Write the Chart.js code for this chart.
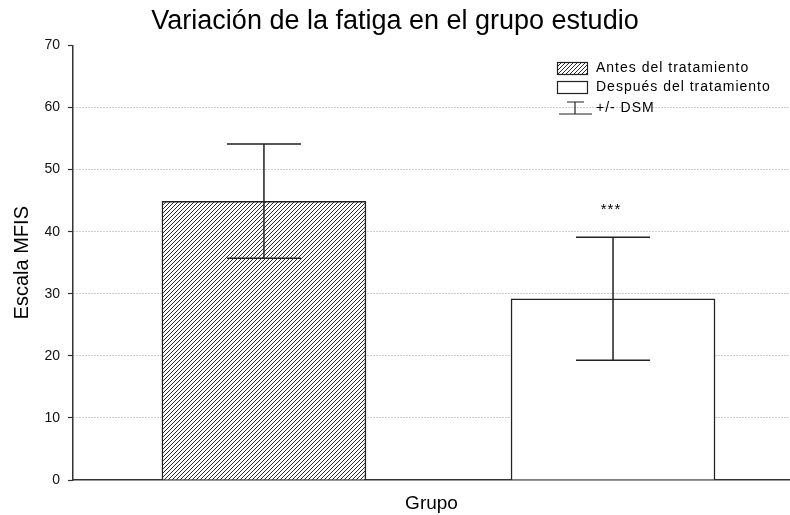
<!DOCTYPE html>
<html>
<head>
<meta charset="utf-8">
<script src="https://cdn.jsdelivr.net/npm/chart.js@4"></script>
<style>
  html, body { margin: 0; padding: 0; background: #fff; overflow: hidden; }
  #wrap { width: 790px; height: 515px; position: relative; }
</style>
</head>
<body>
<div id="wrap"><canvas id="c" width="790" height="515"></canvas></div>
<script>
// ---- Data ----
const chartTitle = 'Variación de la fatiga en el grupo estudio';
const categories = ['Antes del tratamiento', 'Después del tratamiento'];
const groupPositions = [1, 2];
const means = [44.9, 29.2];
const dsm = [9.2, 9.9];
const significance = ['', '***'];
const errorLabel = '+/- DSM';
const yTitle = 'Escala MFIS';
const xTitle = 'Grupo';
const yMin = 0, yMax = 70, yStep = 10;
const xMin = 0.453, xMax = 2.507;

// ---- Hatch pattern ----
function makeHatch() {
  const s = 4;
  const pc = document.createElement('canvas');
  pc.width = s; pc.height = s;
  const p = pc.getContext('2d');
  p.fillStyle = '#ffffff';
  p.fillRect(0, 0, s, s);
  p.strokeStyle = '#2a2a2a';
  p.lineWidth = 1;
  p.beginPath();
  p.moveTo(-1, s + 1); p.lineTo(s + 1, -1);
  p.moveTo(-1, 1); p.lineTo(1, -1);
  p.moveTo(s - 1, s + 1); p.lineTo(s + 1, s - 1);
  p.stroke();
  return document.getElementById('c').getContext('2d').createPattern(pc, 'repeat');
}
const hatch = makeHatch();
const fills = [hatch, '#ffffff'];

const FONT = "'Liberation Sans', Arial, sans-serif";

// ---- Error bars + significance plugin ----
const errorBars = {
  id: 'errorBars',
  afterDatasetsDraw(chart) {
    const ctx = chart.ctx;
    const xs = chart.scales.x, ys = chart.scales.y;
    ctx.save();
    ctx.setLineDash([]);
    ctx.strokeStyle = '#222';
    ctx.lineWidth = 1.5;
    groupPositions.forEach((g, i) => {
      const x = xs.getPixelForValue(g);
      const yT = ys.getPixelForValue(means[i] + dsm[i]);
      const yB = ys.getPixelForValue(means[i] - dsm[i]);
      const half = 37;
      ctx.beginPath();
      ctx.moveTo(x, yT); ctx.lineTo(x, yB);
      ctx.moveTo(x - half, yT); ctx.lineTo(x + half, yT);
      ctx.moveTo(x - half, yB); ctx.lineTo(x + half, yB);
      ctx.stroke();
      if (significance[i]) {
        ctx.fillStyle = '#000';
        ctx.font = '15px ' + FONT;
        ctx.letterSpacing = '1px';
        ctx.textAlign = 'center';
        ctx.textBaseline = 'middle';
        ctx.fillText(significance[i], x - 2, yT - 27);
      }
    });
    ctx.restore();
  }
};

// ---- Custom in-plot legend ----
const innerLegend = {
  id: 'innerLegend',
  afterDraw(chart) {
    const ctx = chart.ctx;
    ctx.save();
    ctx.setLineDash([]);
    const bx = 557, bw = 30, bh = 12;
    const rows = [62, 81];
    ctx.lineWidth = 1.2;
    ctx.strokeStyle = '#222';
    ctx.font = '14px ' + FONT;
    ctx.letterSpacing = '1px';
    ctx.fillStyle = '#000';
    ctx.textBaseline = 'middle';
    ctx.textAlign = 'left';
    categories.forEach((lab, i) => {
      ctx.fillStyle = fills[i];
      ctx.fillRect(bx, rows[i], bw, bh);
      ctx.strokeRect(bx + 0.5, rows[i] + 0.5, bw, bh);
      ctx.fillStyle = '#000';
      ctx.fillText(lab, 596, rows[i] + bh / 2 + 0.5);
    });
    // error symbol
    ctx.beginPath();
    ctx.moveTo(575, 102); ctx.lineTo(575, 114);
    ctx.moveTo(567, 102); ctx.lineTo(584, 102);
    ctx.moveTo(559, 114); ctx.lineTo(592, 114);
    ctx.stroke();
    ctx.fillText(errorLabel, 596, 108);
    ctx.restore();
  }
};

const data = {
  datasets: categories.map((lab, i) => ({
    label: lab,
    data: [{ x: groupPositions[i], y: means[i] }],
    backgroundColor: fills[i],
    borderColor: '#222',
    borderWidth: 1.5,
    borderSkipped: 'bottom',
    barThickness: 204,
    grouped: false
  }))
};

new Chart(document.getElementById('c'), {
  type: 'bar',
  data,
  options: {
    responsive: false,
    animation: false,
    devicePixelRatio: 1,
    layout: { padding: { left: 0, right: 0, top: 0, bottom: 0 } },
    plugins: {
      legend: { display: false },
      tooltip: { enabled: false },
      title: {
        display: true,
        text: chartTitle,
        color: '#000',
        font: { family: FONT, size: 27, weight: 'normal', lineHeight: 1.2 },
        padding: { top: 5, bottom: 8 }
      }
    },
    scales: {
      x: {
        type: 'linear',
        min: xMin, max: xMax,
        offset: false,
        ticks: { display: false },
        grid: { display: false, drawTicks: false },
        border: { display: true, color: '#333', width: 1.5 },
        title: {
          display: true, text: xTitle, color: '#000',
          font: { family: FONT, size: 19 },
          padding: { top: 6, bottom: 0 }
        },
        afterFit(s) { s.height = 35; }
      },
      y: {
        min: yMin, max: yMax,
        ticks: {
          stepSize: yStep, color: '#111', padding: 8,
          font: { family: FONT, size: 14 }
        },
        grid: {
          color: (c) => (c.tick && (c.tick.value === yMax || c.tick.value === yMin)) ? 'rgba(0,0,0,0)' : '#9a9a9a',
          lineWidth: 1,
          tickLength: 5,
          tickColor: '#333',
          tickWidth: 1.2,
          tickBorderDash: []
        },
        border: { display: true, color: '#333', width: 1.5, dash: [1, 2] },
        title: {
          display: true, text: yTitle, color: '#000',
          font: { family: FONT, size: 20 },
          padding: { top: 10, bottom: 0 }
        },
        afterFit(s) { s.width = 73; }
      }
    }
  },
  plugins: [errorBars, innerLegend]
});
</script>
</body>
</html>
